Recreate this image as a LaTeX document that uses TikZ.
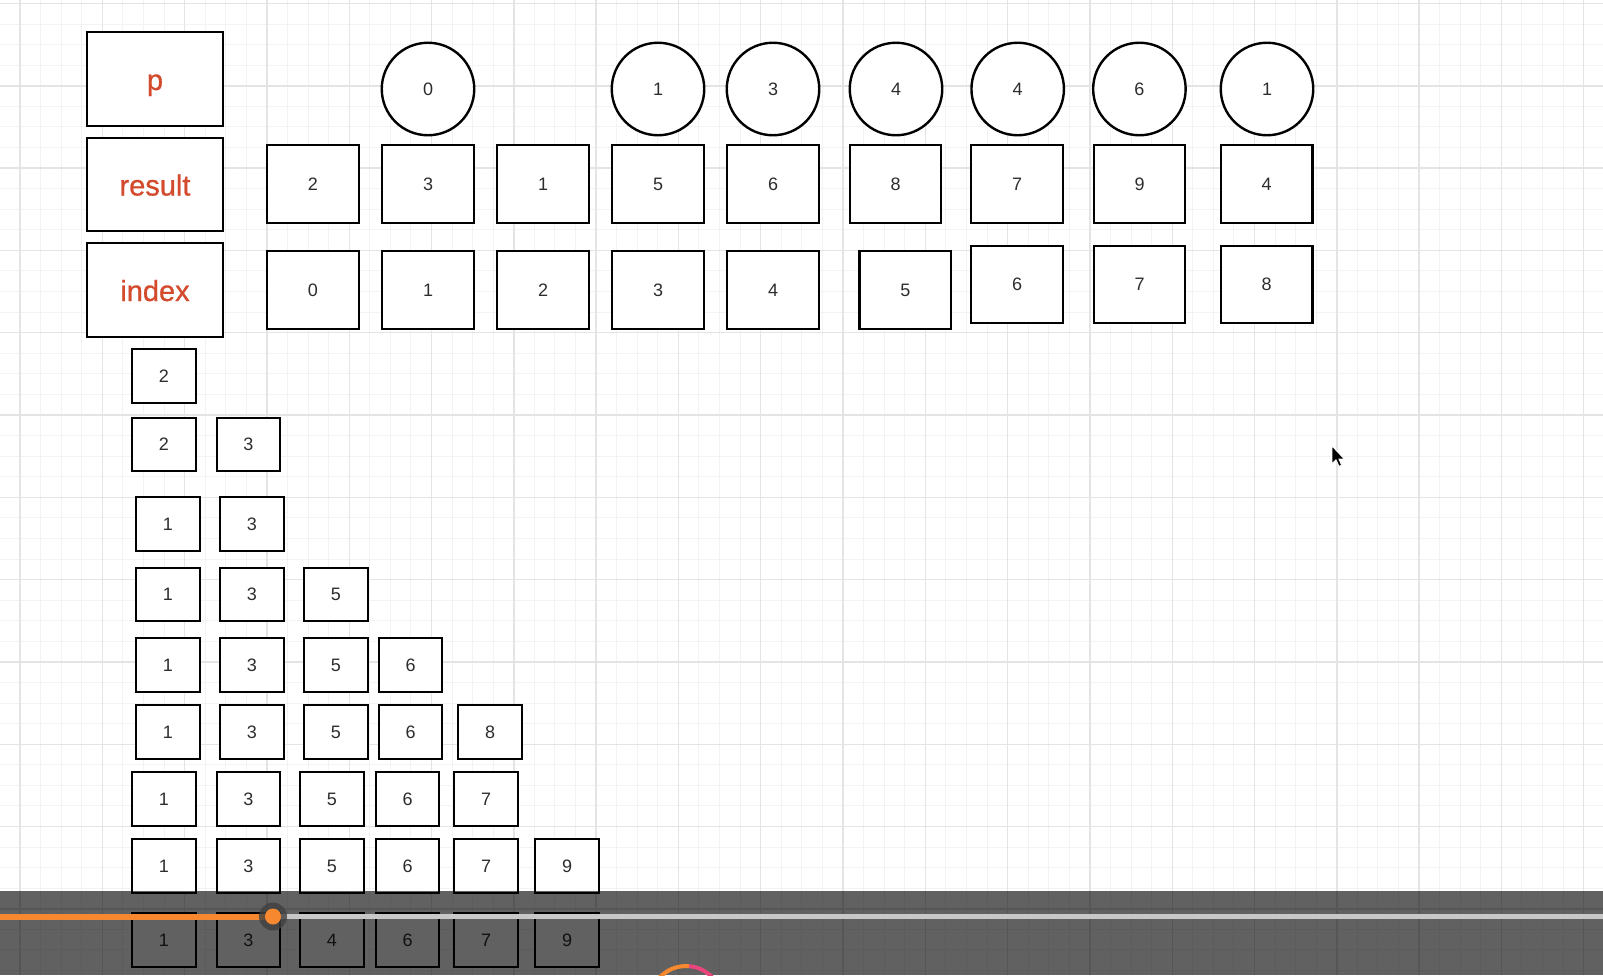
\documentclass[tikz,border=0pt]{standalone}
\usepackage{fontspec}
\setmainfont{Liberation Sans}
\newfontfamily\labfont{Liberation Sans}[FakeBold=0.8]
\definecolor{labred}{RGB}{212,74,44}
\definecolor{numgray}{RGB}{45,45,45}
\definecolor{gridminor}{RGB}{243,243,243}
\definecolor{gridmajor}{RGB}{228,228,228}
\definecolor{barorange}{RGB}{246,137,47}
\definecolor{bartrack}{RGB}{200,200,200}
\definecolor{ringpink}{RGB}{232,70,122}
\begin{document}
\begin{tikzpicture}[x=1pt,y=-1pt,
  box/.style={draw=black,line width=2.4pt,fill=white,inner sep=0pt},
  lab/.style={box,minimum width=135.5pt,minimum height=93.5pt,text=labred,
    font=\labfont\fontsize{29}{32}\selectfont,text height=24pt,text depth=2pt},
  cell/.style={box,minimum width=91.5pt,minimum height=77.5pt,text=numgray,
    font=\fontsize{18}{20}\selectfont},
  circ/.style={box,circle,minimum size=92.5pt,text=numgray,
    font=\fontsize{18}{20}\selectfont},
  sm/.style={box,minimum width=63.5pt,minimum height=53.5pt,text=numgray,
    font=\fontsize{18}{20}\selectfont}]
\useasboundingbox (0,0) rectangle (1603,975);
\fill[white] (0,0) rectangle (1603,975);
% grid
\foreach \j in {-1,...,77} {\draw[gridminor,line width=1pt] ({20+20.575*\j},0) -- ({20+20.575*\j},975);}
\foreach \j in {0,...,47} {\draw[gridminor,line width=1pt] (0,{3.5+20.575*\j}) -- (1603,{3.5+20.575*\j});}
\foreach \j in {0,4,...,76} {\draw[gridmajor,line width=1.4pt] ({20+20.575*\j},0) -- ({20+20.575*\j},975);}
\foreach \j in {0,4,...,44} {\draw[gridmajor,line width=1.4pt] (0,{3.5+20.575*\j}) -- (1603,{3.5+20.575*\j});}

% labels
\node[lab] (lp) at (155,79) {p};
\node[lab] (lres) at (155,184.5) {result};
\node[lab] (lidx) at (155,290) {index};

% result row
\foreach \x/\v [count=\i] in {313/2,428/3,543/1,658/5,773/6,895.5/8,1017/7,1139.5/9,1266.6/4}
  {\node[cell] (r\i) at (\x,184) {\v};}
% index row
\foreach \x/\y/\v [count=\i] in {313/290/0,428/290/1,543/290/2,658/290/3,773/290/4,905.3/290/5,1017/284.5/6,1139.5/284.5/7,1266.6/284.5/8}
  {\node[cell] (x\i) at (\x,\y) {\v};}
% p circles
\foreach \x/\v [count=\i] in {428/0,658/1,773/3,896/4,1017.7/4,1139.4/6,1267/1}
  {\node[circ] (c\i) at (\x,89) {\v};}

% stack rows
\node[sm] (s1a) at (164,376) {2};
\node[sm] (s2a) at (164,444.5) {2};
\node[sm] (s2b) at (248.5,444.5) {3};
\foreach \x/\v [count=\i] in {168/1,252/3}
  {\node[sm] (s3\i) at (\x,524) {\v};}
\foreach \x/\v [count=\i] in {168/1,252/3,336/5}
  {\node[sm] (s4\i) at (\x,594.5) {\v};}
\foreach \x/\v [count=\i] in {168/1,252/3,336/5,410.5/6}
  {\node[sm] (s5\i) at (\x,665) {\v};}
\foreach \x/\v [count=\i] in {168/1,252/3,336/5,410.5/6,490/8}
  {\node[sm] (s6\i) at (\x,732) {\v};}
\foreach \x/\v [count=\i] in {164/1,248.5/3,332/5,407.5/6,486/7}
  {\node[sm] (s7\i) at (\x,799) {\v};}
\foreach \x/\v [count=\i] in {164/1,248.5/3,332/5,407.5/6,486/7,567/9}
  {\node[sm] (s8\i) at (\x,866) {\v};}
\foreach \x/\v [count=\i] in {164/1,248.5/3,332/4,407.5/6,486/7,567/9}
  {\node[sm] (s9\i) at (\x,940) {\v};}

% mouse cursor
\fill[black,draw=white,line width=0.8pt,line join=round] (1332,446) -- ++(0,17.5) -- ++(4,-3.8) -- ++(3,6.6) -- ++(2.6,-1.1) -- ++(-2.8,-6.3) -- ++(5.4,0) -- cycle;

% video player bar overlay
\fill[black,fill opacity=0.62] (0,891) rectangle (1603,975);
\draw[bartrack,line width=5pt] (273,916.5) -- (1603,916.5);
\draw[barorange,line width=6pt] (0,916.5) -- (273,916.5);
\fill[black!75,fill opacity=0.8] (273,916.5) circle (14);
\fill[barorange] (273,916.5) circle (8);
\draw[barorange,line width=4pt] (686,1002) ++(-140:36) arc (-140:-85:36);
\draw[ringpink,line width=4pt] (686,1002) ++(-85:36) arc (-85:-40:36);
\end{tikzpicture}
\end{document}
